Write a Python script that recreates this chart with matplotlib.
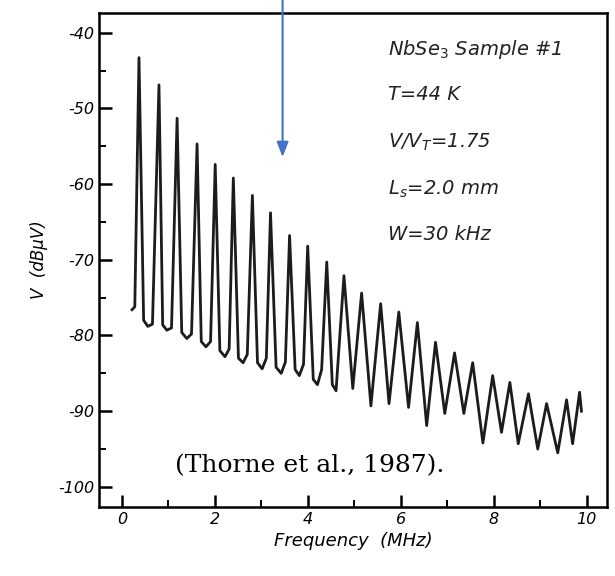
import matplotlib.pyplot as plt
from matplotlib.ticker import MultipleLocator

plt.rcParams["axes.unicode_minus"] = False

# trace vertices (MHz, dBuV)
freq = [0.22, 0.28, 0.37, 0.47, 0.56, 0.66, 0.80, 0.88, 0.97, 1.07,
        1.19, 1.29, 1.40, 1.50, 1.62, 1.71, 1.81, 1.91, 2.01, 2.11,
        2.22, 2.31, 2.40, 2.51, 2.61, 2.70, 2.81, 2.92, 3.02, 3.11,
        3.20, 3.32, 3.43, 3.52, 3.61, 3.73, 3.82, 3.91, 4.00, 4.12,
        4.21, 4.30, 4.41, 4.53, 4.61, 4.78, 4.97, 5.16, 5.36, 5.57,
        5.75, 5.96, 6.17, 6.36, 6.56, 6.75, 6.95, 7.16, 7.36, 7.55,
        7.77, 7.98, 8.17, 8.35, 8.53, 8.75, 8.95, 9.14, 9.38, 9.57,
        9.70, 9.85, 9.89]
level = [-76.6, -76.2, -43.3, -78.0, -78.8, -78.5, -46.9, -78.6, -79.3, -79.0,
         -51.3, -79.6, -80.4, -79.8, -54.7, -80.8, -81.5, -80.8, -57.4, -82.0,
         -82.8, -81.8, -59.2, -83.0, -83.6, -82.5, -61.5, -83.6, -84.4, -83.0,
         -63.8, -84.2, -85.0, -83.5, -66.8, -84.5, -85.3, -83.8, -68.2, -85.8,
         -86.5, -84.5, -70.3, -86.5, -87.3, -72.1, -87.0, -74.4, -89.3, -75.8,
         -89.0, -76.9, -89.5, -78.3, -91.9, -80.9, -90.3, -82.3, -90.3, -83.6,
         -94.2, -85.3, -92.8, -86.2, -94.3, -87.7, -95.0, -89.0, -95.5, -88.5,
         -94.3, -87.5, -90.0]

info_lines = ["NbSe$_3$ Sample #1", "T=44 K", "V/V$_T$=1.75", "L$_s$=2.0 mm", "W=30 kHz"]
citation = "(Thorne et al., 1987)."

fig = plt.figure(figsize=(6.15, 5.76), dpi=100)
ax = fig.add_axes([0.161, 0.12, 0.826, 0.858])

ax.plot(freq, level, color="#1c1c1c", lw=2.0, solid_joinstyle="round")

ax.set_xlim(-0.49, 10.44)
ax.set_ylim(-102.64, -37.36)
ax.xaxis.set_major_locator(MultipleLocator(2))
ax.xaxis.set_minor_locator(MultipleLocator(1))
ax.yaxis.set_major_locator(MultipleLocator(10))
ax.yaxis.set_minor_locator(MultipleLocator(5))
ax.tick_params(which="major", direction="in", length=9, width=1.8)
ax.tick_params(which="minor", direction="in", length=5, width=1.4)
ax.tick_params(labelsize=11.5)
for lab in ax.get_xticklabels() + ax.get_yticklabels():
    lab.set_style("italic")
for sp in ax.spines.values():
    sp.set_linewidth(1.8)

ax.set_xlabel("Frequency  (MHz)", fontsize=13, style="italic", labelpad=4)
ax.set_ylabel("V  (dBµV)", fontsize=12, style="italic", labelpad=7)

ys = [0.925, 0.834, 0.737, 0.642, 0.551]
for txt, y in zip(info_lines, ys):
    ax.text(0.569, y, txt, transform=ax.transAxes, fontsize=14,
            style="italic", va="center", ha="left", color="#222222")

ax.text(0.415, 0.083, citation, transform=ax.transAxes, fontsize=18,
        family="DejaVu Serif", ha="center", va="center")

ax.annotate("", xy=(3.46, -56.8), xytext=(3.46, 1.03),
            textcoords=("data", "axes fraction"),
            arrowprops=dict(arrowstyle="-|>,head_width=0.35,head_length=0.9",
                            color="#4472C4", lw=1.5),
            annotation_clip=False)

fig.savefig("out.png", dpi=100)
